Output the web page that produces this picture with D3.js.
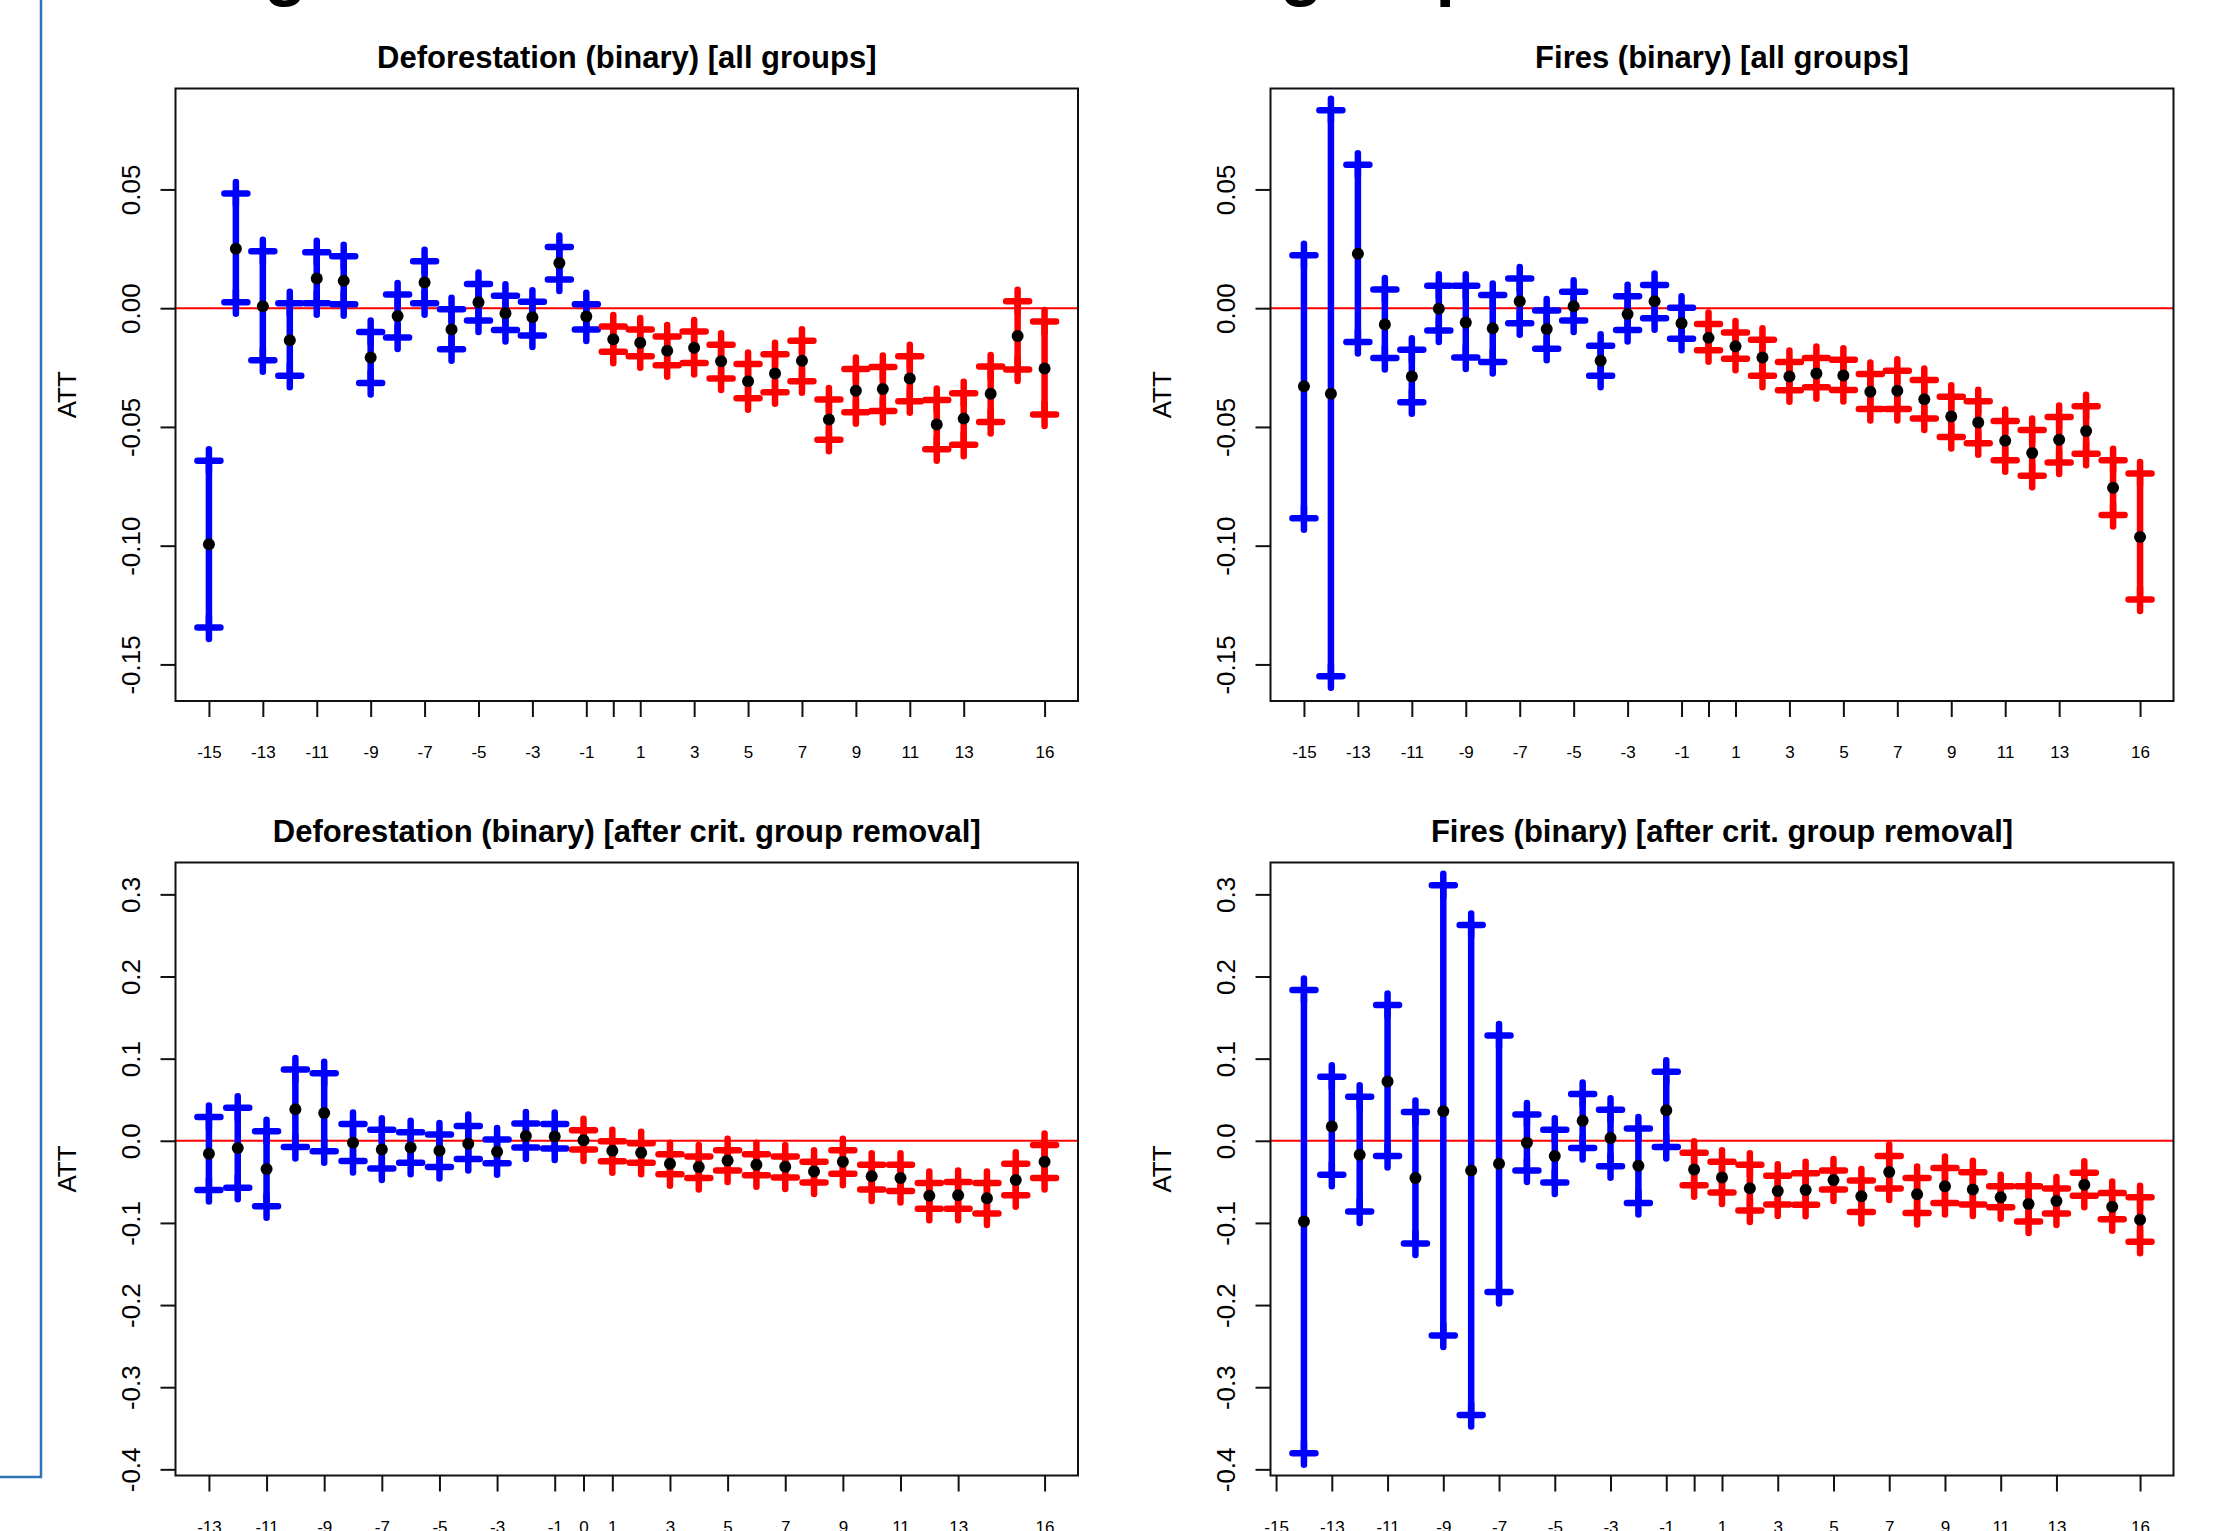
<!DOCTYPE html>
<html>
<head>
<meta charset="utf-8">
<style>
  body { margin: 0; background: #fff; }
  svg { display: block; font-family: "Liberation Sans", Arial, sans-serif; }
</style>
</head>
<body>
<div id="chart"></div>
<script src="https://d3js.org/d3.v7.min.js"></script>
<script>
// ---- data ----
var timesAll = [-15,-14,-13,-12,-11,-10,-9,-8,-7,-6,-5,-4,-3,-2,-1,0,1,2,3,4,5,6,7,8,9,10,11,12,13,14,15,16];
var timesDefCrit = [-13,-12,-11,-10,-9,-8,-7,-6,-5,-4,-3,-2,-1,0,1,2,3,4,5,6,7,8,9,10,11,12,13,14,15,16];
var timesFireCrit = [-14,-13,-12,-11,-10,-9,-8,-7,-6,-5,-4,-3,-2,-1,0,1,2,3,4,5,6,7,8,9,10,11,12,13,14,15,16];

// Deforestation (binary) [all groups]
var defAllEst = [-0.0994,0.0250,0.0008,-0.0135,0.0125,0.0115,-0.0208,-0.0033,0.0108,-0.0090,0.0025,-0.0021,-0.0038,0.0190,-0.0035,
                 -0.0131,-0.0146,-0.0179,-0.0167,-0.0223,-0.0308,-0.0275,-0.0221,-0.0469,-0.0348,-0.0340,-0.0296,-0.0490,-0.0465,-0.0360,-0.0117,-0.0254];
var defAllHi  = [-0.0642,0.0483,0.0240,0.0021,0.0235,0.0219,-0.0100,0.0058,0.0198,-0.0004,0.0102,0.0052,0.0027,0.0258,0.0017,
                 -0.0077,-0.0090,-0.0119,-0.0098,-0.0154,-0.0235,-0.0194,-0.0137,-0.0385,-0.0256,-0.0248,-0.0202,-0.0387,-0.0358,-0.0246,0.0029,-0.0056];
var defAllLo  = [-0.1344,0.0025,-0.0219,-0.0285,0.0021,0.0017,-0.0315,-0.0123,0.0021,-0.0173,-0.0052,-0.0092,-0.0115,0.0121,-0.0090,
                 -0.0183,-0.0202,-0.0240,-0.0231,-0.0296,-0.0379,-0.0354,-0.0308,-0.0554,-0.0438,-0.0433,-0.0392,-0.0594,-0.0575,-0.0479,-0.0258,-0.0448];

// Fires (binary) [all groups]
var fireAllEst = [-0.0329,-0.0360,0.0229,-0.0069,-0.0288,-0.0002,-0.0060,-0.0085,0.0029,-0.0088,0.0008,-0.0221,-0.0025,0.0029,-0.0063,
                  -0.0125,-0.0160,-0.0208,-0.0288,-0.0275,-0.0283,-0.0352,-0.0348,-0.0383,-0.0456,-0.0481,-0.0558,-0.0610,-0.0554,-0.0517,-0.0756,-0.0963];
var fireAllHi  = [0.0223,0.0833,0.0604,0.0079,-0.0175,0.0094,0.0094,0.0056,0.0125,-0.0010,0.0069,-0.0158,0.0050,0.0098,0.0002,
                  -0.0067,-0.0102,-0.0133,-0.0227,-0.0210,-0.0217,-0.0277,-0.0263,-0.0302,-0.0373,-0.0392,-0.0475,-0.0513,-0.0458,-0.0413,-0.0640,-0.0696];
var fireAllLo  = [-0.0885,-0.1550,-0.0142,-0.0210,-0.0396,-0.0094,-0.0208,-0.0227,-0.0063,-0.0171,-0.0052,-0.0285,-0.0092,-0.0042,-0.0129,
                  -0.0177,-0.0213,-0.0285,-0.0346,-0.0333,-0.0344,-0.0425,-0.0425,-0.0465,-0.0542,-0.0569,-0.0640,-0.0706,-0.0650,-0.0613,-0.0871,-0.1227];

// Deforestation (binary) [after crit. group removal]
var defCritEst = [-0.0157,-0.0087,-0.0344,0.0384,0.0338,-0.0023,-0.0105,-0.0082,-0.0122,-0.0035,-0.0134,0.0058,0.0052,
                  0.0006,-0.0122,-0.0146,-0.0280,-0.0320,-0.0239,-0.0291,-0.0315,-0.0373,-0.0256,-0.0431,-0.0454,-0.0670,-0.0664,-0.0699,-0.0478,-0.0256];
var defCritHi  = [0.0291,0.0402,0.0116,0.0868,0.0821,0.0204,0.0134,0.0105,0.0076,0.0181,0.0017,0.0210,0.0204,
                  0.0128,-0.0006,-0.0029,-0.0163,-0.0192,-0.0116,-0.0163,-0.0192,-0.0256,-0.0116,-0.0291,-0.0291,-0.0513,-0.0501,-0.0513,-0.0280,-0.0052];
var defCritLo  = [-0.0600,-0.0571,-0.0798,-0.0076,-0.0128,-0.0245,-0.0338,-0.0268,-0.0320,-0.0221,-0.0274,-0.0082,-0.0093,
                  -0.0105,-0.0250,-0.0268,-0.0408,-0.0454,-0.0361,-0.0419,-0.0448,-0.0507,-0.0402,-0.0594,-0.0612,-0.0827,-0.0827,-0.0885,-0.0664,-0.0454];

// Fires (binary) [after crit. group removal]
var fireCritEst = [-0.0984,0.0175,-0.0169,0.0722,-0.0454,0.0361,-0.0361,-0.0280,-0.0023,-0.0186,0.0245,0.0035,-0.0303,0.0373,
                   -0.0349,-0.0448,-0.0577,-0.0612,-0.0600,-0.0478,-0.0676,-0.0379,-0.0652,-0.0553,-0.0594,-0.0687,-0.0769,-0.0734,-0.0536,-0.0804,-0.0961];
var fireCritHi  = [0.1835,0.0780,0.0536,0.1654,0.0349,0.3110,0.2627,0.1281,0.0320,0.0134,0.0571,0.0379,0.0151,0.0839,
                   -0.0146,-0.0256,-0.0291,-0.0425,-0.0396,-0.0361,-0.0483,-0.0186,-0.0454,-0.0332,-0.0384,-0.0553,-0.0553,-0.0582,-0.0390,-0.0635,-0.0687];
var fireCritLo  = [-0.3803,-0.0414,-0.0862,-0.0186,-0.1252,-0.2370,-0.3337,-0.1840,-0.0361,-0.0507,-0.0087,-0.0309,-0.0757,-0.0076,
                   -0.0542,-0.0629,-0.0850,-0.0775,-0.0780,-0.0594,-0.0868,-0.0582,-0.0879,-0.0757,-0.0775,-0.0810,-0.0984,-0.0885,-0.0670,-0.0955,-0.1229];

// tick values and labels
var xTicksLong  = [-15,-13,-11,-9,-7,-5,-3,-1,0,1,3,5,7,9,11,13,16];
var xTicksShort = [-13,-11,-9,-7,-5,-3,-1,0,1,3,5,7,9,11,13,16];
var yTicksTop = [-0.15,-0.10,-0.05,0.00,0.05];
var yLabelsTop = ["-0.15","-0.10","-0.05","0.00","0.05"];
var yTicksBottom = [-0.4,-0.3,-0.2,-0.1,0.0,0.1,0.2,0.3];
var yLabelsBottom = ["-0.4","-0.3","-0.2","-0.1","0.0","0.1","0.2","0.3"];

var width = 2213, height = 1531;

var panels = [
  {title: "Deforestation (binary) [all groups]", t: timesAll, est: defAllEst, lo: defAllLo, hi: defAllHi,
   box: [175.5, 88.5, 1078, 701], xdom: [-16.24, 17.24], ydom: [-0.1654, 0.0925],
   xticks: xTicksLong, hideZero: true, yticks: yTicksTop, ylabels: yLabelsTop},
  {title: "Fires (binary) [all groups]", t: timesAll, est: fireAllEst, lo: fireAllLo, hi: fireAllHi,
   box: [1270.5, 88.5, 2173.5, 701], xdom: [-16.24, 17.24], ydom: [-0.1654, 0.0925],
   xticks: xTicksLong, hideZero: true, yticks: yTicksTop, ylabels: yLabelsTop},
  {title: "Deforestation (binary) [after crit. group removal]", t: timesDefCrit, est: defCritEst, lo: defCritLo, hi: defCritHi,
   box: [175.5, 862.5, 1078, 1475.5], xdom: [-14.16, 17.16], ydom: [-0.4075, 0.3388],
   xticks: xTicksShort, hideZero: false, yticks: yTicksBottom, ylabels: yLabelsBottom},
  {title: "Fires (binary) [after crit. group removal]", t: timesFireCrit, est: fireCritEst, lo: fireCritLo, hi: fireCritHi,
   box: [1270.5, 862.5, 2173.5, 1475.5], xdom: [-15.2, 17.2], ydom: [-0.4075, 0.3388],
   xticks: xTicksLong, hideZero: true, yticks: yTicksBottom, ylabels: yLabelsBottom}
];

var svg = d3.select("#chart").append("svg")
    .attr("width", width)
    .attr("height", height)
    .style("background", "#fff");

// slide frame on the left
svg.append("path")
    .attr("d", "M41,0 V1477 H0")
    .attr("fill", "none")
    .attr("stroke", "#2e75b6")
    .attr("stroke-width", 2.5);

// cut-off slide heading (only descenders visible)
var heading = svg.append("g")
    .attr("font-size", 70)
    .attr("font-weight", "bold")
    .attr("fill", "#000");
heading.append("text").attr("x", 264).attr("y", -8).text("g");
heading.append("text").attr("x", 1280).attr("y", -8).text("group");

var plus = 11.5;

panels.forEach(function(p) {
  var x0 = p.box[0], y0 = p.box[1], x1 = p.box[2], y1 = p.box[3];
  var x = d3.scaleLinear().domain(p.xdom).range([x0, x1]);
  var y = d3.scaleLinear().domain(p.ydom).range([y1, y0]);
  var g = svg.append("g");

  // title
  g.append("text")
      .attr("x", (x0 + x1) / 2)
      .attr("y", y0 - 21)
      .attr("text-anchor", "middle")
      .attr("font-size", 31)
      .attr("font-weight", "bold")
      .text(p.title);

  // zero line
  g.append("line")
      .attr("x1", x0).attr("x2", x1)
      .attr("y1", y(0)).attr("y2", y(0))
      .attr("stroke", "#ff0000")
      .attr("stroke-width", 2);

  var rows = p.t.map(function(t, i) {
    return {t: t, est: p.est[i], lo: p.lo[i], hi: p.hi[i]};
  });
  var col = function(d) { return d.t < 0 ? "#0000ff" : "#ff0000"; };

  var bars = g.append("g").selectAll("g")
      .data(rows)
      .enter().append("g")
      .attr("stroke", col)
      .attr("stroke-linecap", "round");

  bars.append("line")
      .attr("x1", function(d) { return x(d.t); })
      .attr("x2", function(d) { return x(d.t); })
      .attr("y1", function(d) { return y(d.lo); })
      .attr("y2", function(d) { return y(d.hi); })
      .attr("stroke-width", 6.5);

  ["lo", "hi"].forEach(function(k) {
    bars.append("path")
        .attr("d", function(d) {
          var cx = x(d.t), cy = y(d[k]);
          return "M" + (cx - plus) + "," + cy + "H" + (cx + plus) +
                 "M" + cx + "," + (cy - plus) + "V" + (cy + plus);
        })
        .attr("fill", "none")
        .attr("stroke-width", 6.5);
  });

  g.append("g").selectAll("circle")
      .data(rows)
      .enter().append("circle")
      .attr("cx", function(d) { return x(d.t); })
      .attr("cy", function(d) { return y(d.est); })
      .attr("r", 6)
      .attr("fill", "#000");

  // box
  g.append("rect")
      .attr("x", x0).attr("y", y0)
      .attr("width", x1 - x0).attr("height", y1 - y0)
      .attr("fill", "none")
      .attr("stroke", "#111")
      .attr("stroke-width", 2);

  // x axis
  var xa = g.append("g")
      .attr("transform", "translate(0," + y1 + ")")
      .call(d3.axisBottom(x)
        .tickValues(p.xticks)
        .tickSize(16)
        .tickSizeOuter(0)
        .tickPadding(29)
        .tickFormat(function(d) { return (p.hideZero && d === 0) ? "" : String(d); }));
  xa.select(".domain").remove();
  xa.selectAll(".tick line").attr("stroke", "#111").attr("stroke-width", 2);
  xa.selectAll(".tick text")
      .attr("font-size", 17)
      .attr("font-family", "Liberation Sans, Arial, sans-serif")
      .attr("fill", "#000");

  // y axis
  var ya = g.append("g")
      .attr("transform", "translate(" + x0 + ",0)")
      .call(d3.axisLeft(y)
        .tickValues(p.yticks)
        .tickSize(15)
        .tickSizeOuter(0)
        .tickFormat(function(d, i) { return p.ylabels[i]; }));
  ya.select(".domain").remove();
  ya.selectAll(".tick line").attr("stroke", "#111").attr("stroke-width", 2);
  ya.selectAll(".tick text")
      .attr("x", null)
      .attr("dy", null)
      .attr("text-anchor", "middle")
      .attr("transform", "translate(-35.5,0) rotate(-90)")
      .attr("font-size", 26)
      .attr("font-family", "Liberation Sans, Arial, sans-serif")
      .attr("fill", "#000");

  // y label
  g.append("text")
      .attr("transform", "translate(" + (x0 - 99.5) + "," + ((y0 + y1) / 2) + ") rotate(-90)")
      .attr("text-anchor", "middle")
      .attr("font-size", 26)
      .text("ATT");
});
</script>
</body>
</html>
